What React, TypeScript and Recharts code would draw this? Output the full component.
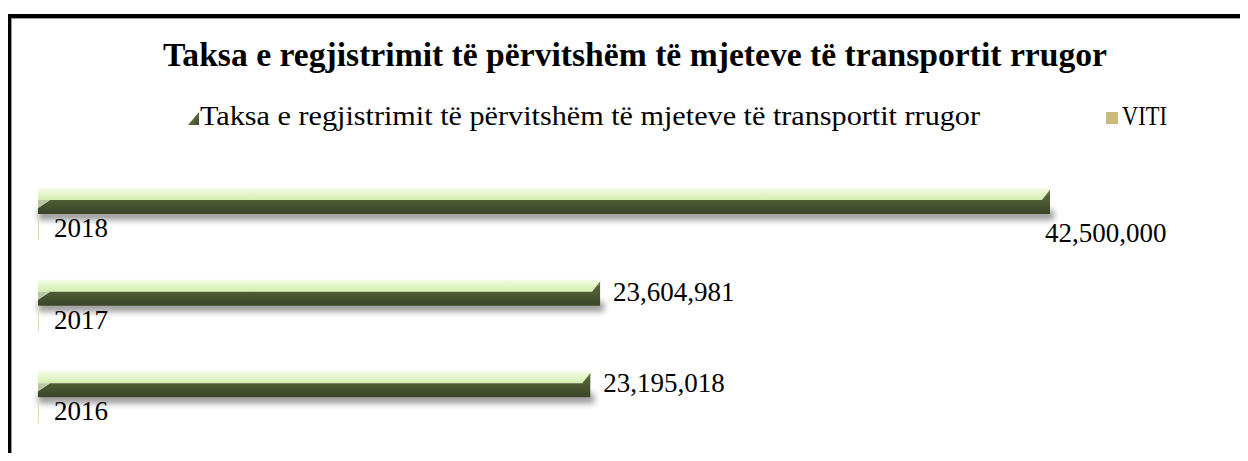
import React from 'react';
import { BarChart, Bar, XAxis, YAxis, LabelList } from 'recharts';

const chartTitle = 'Taksa e regjistrimit të përvitshëm të mjeteve të transportit rrugor';
const seriesNames = ['Taksa e regjistrimit të përvitshëm të mjeteve të transportit rrugor', 'VITI'];
const years = ['2018', '2017', '2016'];
const taxValues = [42500000, 23604981, 23195018];
const yearValues = [2018, 2017, 2016];

const data = years.map((year, i) => ({
  year,
  tax: taxValues[i],
  viti: yearValues[i],
}));

const maxTax = Math.max(...taxValues);
const font = '"Liberation Serif", "Times New Roman", serif';

const Bar3D = (props: any) => {
  const { x, y, width } = props;
  const x1 = x + width;
  const top = 12;
  const h = 26;
  return (
    <g>
      <rect x={x} y={y + h - 4} width={width + 4} height={10} fill="#000" opacity={0.4} filter="url(#barShadow)" />
      <rect x={x} y={y} width={width} height={top} fill="url(#topFace)" />
      <polygon
        points={`${x},${y + h} ${x},${y + 20} ${x + 12},${y + top} ${x1 - 8},${y + top} ${x1},${y + 2} ${x1},${y + h}`}
        fill="url(#frontFace)"
      />
      <polygon points={`${x},${y + top} ${x + 12},${y + top} ${x},${y + 20}`} fill="#b9c6a4" />
      <polygon points={`${x1 - 8},${y + top} ${x1},${y + 2} ${x1},${y + 4}`} fill="#6f7f4c" />
    </g>
  );
};

const YearBar = (props: any) => {
  const { x, y, height } = props;
  return <rect x={x} y={y} width={1} height={height} fill="#e7dab2" />;
};

const TaxLabel = (props: any) => {
  const { x, y, width, value } = props;
  const below = value === maxTax;
  const tx = below ? x + width - 5 : x + width + 13;
  const ty = below ? y + 54 : y + 21;
  return (
    <text x={tx} y={ty} style={{ fontFamily: font }} fontSize={27} fill="#000">
      {Number(value).toLocaleString('en-US')}
    </text>
  );
};

const YearLabel = (props: any) => {
  const { x, y, value } = props;
  return (
    <text x={x + 16} y={y + 23} style={{ fontFamily: font }} fontSize={27} fill="#000">
      {value}
    </text>
  );
};

export default function App() {
  return (
    <div style={{ position: 'relative', width: 1232, height: 445, fontFamily: font }}>
      <style>{`body{overflow:hidden}`}</style>
      <div
        style={{
          position: 'absolute',
          left: -1,
          top: 6,
          width: 1241,
          height: 447,
          boxSizing: 'border-box',
          borderTop: '4px solid #000',
          borderLeft: '4px solid #000',
          boxShadow: 'inset 1px 1px 0 #999',
        }}
      />
      <svg width={1232} height={140} style={{ position: 'absolute', left: 0, top: 0 }}>
        <defs>
          <linearGradient id="legendIcon" x1="0" y1="0" x2="1" y2="1">
            <stop offset="0%" stopColor="#c9d6a8" />
            <stop offset="50%" stopColor="#5d6c3d" />
            <stop offset="100%" stopColor="#3a4526" />
          </linearGradient>
        </defs>
        <text
          x={155}
          y={58}
          textLength={944}
          lengthAdjust="spacingAndGlyphs"
          style={{ fontFamily: font }}
          fontSize={33}
          fontWeight="bold"
          fill="#000"
        >
          {chartTitle}
        </text>
        <polygon points="180,117 191,104 191,117" fill="url(#legendIcon)" />
        <text
          x={192}
          y={117}
          textLength={780}
          lengthAdjust="spacingAndGlyphs"
          style={{ fontFamily: font }}
          fontSize={27}
          fill="#000"
        >
          {seriesNames[0]}
        </text>
        <rect x={1098} y={104} width={12} height={12} fill="#c9b97a" />
        <text x={1114} y={117} textLength={45} lengthAdjust="spacingAndGlyphs" style={{ fontFamily: font }} fontSize={27} fill="#000">
          {seriesNames[1]}
        </text>
      </svg>
      <div style={{ position: 'absolute', left: 0, top: 0 }}>
        <BarChart
          width={1232}
          height={445}
          data={data}
          layout="vertical"
          margin={{ top: 160, right: 190, bottom: 10, left: 30 }}
          barGap={0}
        >
          <defs>
            <linearGradient id="topFace" x1="0" y1="0" x2="0" y2="1">
              <stop offset="0%" stopColor="#f4fde6" />
              <stop offset="100%" stopColor="#d3edae" />
            </linearGradient>
            <linearGradient id="frontFace" x1="0" y1="0" x2="0" y2="1">
              <stop offset="0%" stopColor="#5e6d3e" />
              <stop offset="100%" stopColor="#3a4427" />
            </linearGradient>
            <filter id="barShadow" x="-5%" y="-100%" width="110%" height="300%">
              <feGaussianBlur stdDeviation="3" />
            </filter>
          </defs>
          <XAxis type="number" domain={[0, maxTax]} hide />
          <YAxis type="category" dataKey="year" hide />
          <Bar dataKey="tax" name={seriesNames[0]} barSize={26} shape={<Bar3D />} isAnimationActive={false}>
            <LabelList dataKey="tax" content={<TaxLabel />} />
          </Bar>
          <Bar dataKey="viti" name={seriesNames[1]} barSize={26} shape={<YearBar />} isAnimationActive={false}>
            <LabelList dataKey="viti" content={<YearLabel />} />
          </Bar>
        </BarChart>
      </div>
    </div>
  );
}
